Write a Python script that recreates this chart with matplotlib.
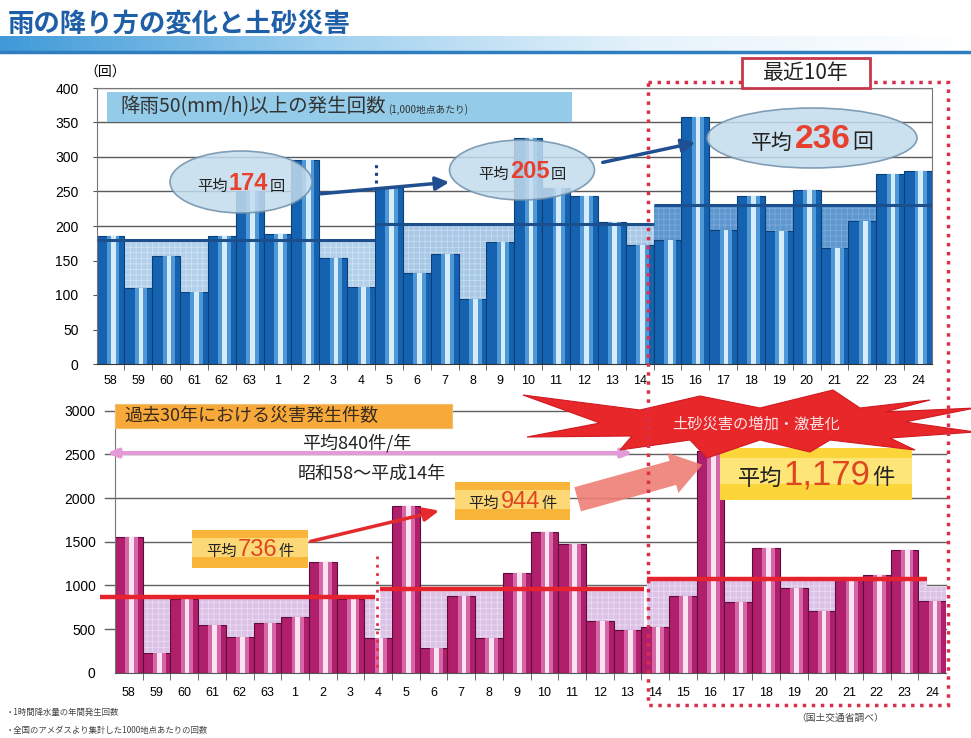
import matplotlib
matplotlib.use("Agg")
import matplotlib.pyplot as plt
import numpy as np
from matplotlib.transforms import Affine2D
from matplotlib.patches import Ellipse, Rectangle, Polygon, FancyArrowPatch
from matplotlib.offsetbox import TextArea, HPacker, AnnotationBbox
from matplotlib.colors import LinearSegmentedColormap

plt.rcParams['font.family'] = ['Noto Sans CJK JP', 'DejaVu Sans']
plt.rcParams['hatch.linewidth'] = 0.5

# ---------------- data ----------------
years = ['58', '59', '60', '61', '62', '63'] + [str(i) for i in range(1, 25)]

rain_counts = [186, 110, 156, 104, 186, 251, 189, 295, 154, 111,
               256, 132, 160, 94, 177, 328, 255, 243, 206, 173,
               180, 358, 194, 243, 193, 252, 168, 207, 276, 279]
rain_periods = [(0, 9), (10, 19), (20, 29)]
rain_avg_lines = [180, 203, 230]
rain_avg_labels = ['174', '205', '236']

disasters = [1557, 221, 840, 546, 412, 565, 641, 1263, 840, 393,
             1908, 286, 878, 401, 1145, 1615, 1473, 595, 489, 527,
             878, 2537, 813, 1424, 966, 706, 1061, 1118, 1405, 824]
dis_periods = [(-1.05, 8.9), (9.05, 18.6), (18.7, 28.8)]
dis_avg_lines = [870, 955, 1070]
dis_avg_labels = ['736', '944', '1,179']
overall_avg_level = 2515

W, H = 971, 738
fig = plt.figure(figsize=(W / 100, H / 100), dpi=100)
pix = Affine2D().scale(1 / W, -1 / H).translate(0, 1) + fig.transFigure

def ax_rect(x0, y0, x1, y1):
    return [x0 / W, 1 - y1 / H, (x1 - x0) / W, (y1 - y0) / H]

# ---------------- header band ----------------
band = fig.add_axes(ax_rect(0, 36, W, 51))
grad = np.linspace(0, 1, 256).reshape(1, -1)
band.imshow(grad, aspect='auto', cmap=LinearSegmentedColormap.from_list(
    'b', ['#3f9ad8', '#9fd0ef', '#e6f3fb', '#ffffff']), extent=[0, 1, 0, 1])
band.axis('off')
fig.add_artist(plt.Line2D([0, W], [52, 52], transform=pix, color='#2f7fc0', lw=2.5))
fig.text(8, 24, '雨の降り方の変化と土砂災害', transform=pix, fontsize=19, fontweight='bold',
         color='#1f5fa8', va='center', ha='left')

x = np.arange(len(years))

# ---------------- top chart ----------------
ax1 = fig.add_axes(ax_rect(96.5, 88, 932, 364))
ax1.set_xlim(-0.5, 29.5)
ax1.set_ylim(0, 400)
for gy in range(50, 401, 50):
    ax1.axhline(gy, color='#5a5a5a', lw=1.0, zorder=0.5)
fill_cols = ['#b3d0ea', '#a8c8e6', '#5e96cf']
hatch_cols = ['#d3e4f3', '#cadff1', '#7eaedc']
for (s, e), lv, fc, hc in zip(rain_periods, rain_avg_lines, fill_cols, hatch_cols):
    ax1.fill_between([s - 0.5, e + 0.5], 0, lv, facecolor=fc, edgecolor=hc,
                     hatch='+++', lw=0, zorder=1)
ax1.bar(x, rain_counts, width=1.0, color='#1462b0', edgecolor='#0c3f78', lw=0.8, zorder=2)
ax1.bar(x + 0.1, rain_counts, width=0.45, color='#4f98d8', lw=0, zorder=2.1)
ax1.bar(x + 0.1, rain_counts, width=0.17, color='#d6ecfb', lw=0, zorder=2.2)
for (s, e), lv in zip(rain_periods, rain_avg_lines):
    ax1.plot([s - 0.5, e + 0.5], [lv, lv], color='#1d4f8c', lw=2.2, zorder=3,
             solid_capstyle='butt')
ax1.plot([9.55, 9.55], [262, 292], color='#1d3f8c', lw=2.2, ls=(0, (1, 1.5)), zorder=3)
ax1.set_xticks(x)
ax1.set_xticklabels(years, fontsize=9, family=['Liberation Sans', 'DejaVu Sans'])
ax1.set_xticks(x[:-1] + 0.5, minor=True)
ax1.tick_params(axis='x', which='major', length=0, pad=8)
ax1.tick_params(axis='x', which='minor', length=4, color='#555')
ax1.set_yticks(range(0, 401, 50))
ax1.tick_params(axis='y', labelsize=10, length=3, pad=10, color='#555')
for lab in ax1.get_yticklabels():
    lab.set_family(['Liberation Sans', 'DejaVu Sans'])
for sp in ['left', 'top', 'right']:
    ax1.spines[sp].set_color('#777')
ax1.spines['bottom'].set_color('#333')
ax1.set_facecolor('white')

fig.text(105, 73, '（回）', transform=pix, fontsize=10, ha='center', va='center')

# title box of top chart
fig.add_artist(Rectangle((107, 92), 465, 30, transform=pix, facecolor='#93cbe8',
                         edgecolor='none', zorder=4))
tb = HPacker(children=[TextArea('降雨50(mm/h)以上の発生回数', textprops=dict(fontsize=14, color='#333')),
                       TextArea('(1,000地点あたり)', textprops=dict(fontsize=7, color='#333'))],
             align='baseline', pad=0, sep=2)
fig.add_artist(AnnotationBbox(tb, (120, 107), xycoords=pix, box_alignment=(0, 0.5),
                              frameon=False, zorder=5))

ell_specs = [(241, 182, 142, 62), (522, 170, 145, 60), (812, 138, 210, 60)]
ell_sizes = [(11, 17), (11, 17), (15, 24)]
for (cx, cy, ew, eh), lbl, (sm, bg) in zip(ell_specs, rain_avg_labels, ell_sizes):
    fig.add_artist(Ellipse((cx, cy), ew, eh, transform=pix, facecolor='#c4dced',
                           edgecolor='#6f8fab', lw=1.2, alpha=0.85, zorder=4))
    hp = HPacker(children=[TextArea('平均', textprops=dict(fontsize=sm, color='#222')),
                           TextArea(lbl, textprops=dict(fontsize=bg, color='#e8402e',
                                                        fontweight='bold',
                                                        family=['Liberation Sans', 'DejaVu Sans'])),
                           TextArea('回', textprops=dict(fontsize=sm, color='#222'))],
                 align='baseline', pad=0, sep=1)
    fig.add_artist(AnnotationBbox(hp, (cx, cy + 2), xycoords=pix, box_alignment=(0.5, 0.5),
                                  frameon=False, zorder=5))

for (x0, y0, x1, y1) in [(318, 194, 452, 182), (600, 163, 698, 142)]:
    fig.add_artist(FancyArrowPatch((x0, y0), (x1, y1), transform=pix,
                                   arrowstyle='-|>,head_length=8,head_width=4',
                                   color='#1f4f90', lw=2.5, zorder=5))

# ---------------- bottom chart ----------------
ax2 = fig.add_axes(ax_rect(115, 410.7, 946, 672.7))
ax2.set_xlim(-0.5, 29.5)
ax2.set_ylim(0, 3000)
for gy in range(500, 3001, 500):
    ax2.plot([-0.85, 29.5], [gy, gy], color='#606060', lw=1.0, zorder=0.5, clip_on=False)
for (s, e), lv in zip(dis_periods, dis_avg_lines):
    ax2.fill_between([max(s, -0.5), e], 0, lv, facecolor='#dcc2e6', edgecolor='#ecdff2',
                     hatch='+++', lw=0, zorder=1)
ax2.fill_between([28.8, 29.5], 0, 985, facecolor='#dcc2e6', edgecolor='#ecdff2',
                 hatch='+++', lw=0, zorder=1)
ax2.bar(x, disasters, width=1.0, color='#b01f6c', edgecolor='#5e0c38', lw=0.8, zorder=2)
ax2.bar(x + 0.1, disasters, width=0.45, color='#d766a6', lw=0, zorder=2.1)
ax2.bar(x + 0.1, disasters, width=0.17, color='#fbe4f1', lw=0, zorder=2.2)
for (s, e), lv in zip(dis_periods, dis_avg_lines):
    ax2.plot([s, e], [lv, lv], color='#e6222c', lw=3.2, zorder=3, clip_on=False,
             solid_capstyle='butt')
ax2.set_xticks(x)
ax2.set_xticklabels(years, fontsize=9, family=['Liberation Sans', 'DejaVu Sans'])
ax2.set_xticks(x[:-1] + 0.5, minor=True)
ax2.tick_params(axis='x', which='major', length=0, pad=10)
ax2.tick_params(axis='x', which='minor', length=5, color='#555')
ax2.set_yticks(range(0, 3001, 500))
ax2.tick_params(axis='y', labelsize=10, length=0, pad=14)
for lab in ax2.get_yticklabels():
    lab.set_family(['Liberation Sans', 'DejaVu Sans'])
for sp in ['top', 'right']:
    ax2.spines[sp].set_visible(False)
ax2.spines['left'].set_color('#777')
ax2.spines['bottom'].set_color('#555')

# overall average double arrow
ax2.annotate('', xy=(-0.9, overall_avg_level), xytext=(18.3, overall_avg_level),
             arrowprops=dict(arrowstyle='<|-|>,head_length=0.6,head_width=0.25',
                             color='#e39ad6', lw=3), annotation_clip=False, zorder=4)
fig.text(357, 443, '平均840件/年', transform=pix, fontsize=13, ha='center', va='center', color='#222')
fig.text(372, 474, '昭和58～平成14年', transform=pix, fontsize=13, ha='center', va='center', color='#222')

# orange title
fig.add_artist(Rectangle((115, 404), 337, 24, transform=pix, facecolor='#f7a93a',
                         edgecolor='#f0c070', lw=0.8, zorder=4))
fig.text(124, 416, '過去30年における災害発生件数', transform=pix, fontsize=13, ha='left',
         va='center', color='#3a2a20', zorder=5)

# avg boxes bottom
box_specs = [(192, 530, 116, 38, 11, 17, '#f8b53a'), (455, 482, 115, 38, 11, 17, '#f8b53a'),
             (720, 448, 192, 52, 16, 25, '#fbd53a')]
for (bx, by, bw, bh, sm, bg, fc), lbl in zip(box_specs, dis_avg_labels):
    fig.add_artist(Rectangle((bx, by), bw, bh, transform=pix, facecolor=fc,
                             edgecolor='none', zorder=6))
    fig.add_artist(Rectangle((bx, by + bh * 0.2), bw, bh * 0.5, transform=pix, facecolor='#fff1a0',
                             edgecolor='none', alpha=0.6, zorder=6))
    hp = HPacker(children=[TextArea('平均', textprops=dict(fontsize=sm, color='#222')),
                           TextArea(lbl, textprops=dict(fontsize=bg, color='#e0461e',
                                                        family=['Liberation Sans', 'DejaVu Sans'])),
                           TextArea('件', textprops=dict(fontsize=sm, color='#222'))],
                 align='baseline', pad=0, sep=1)
    fig.add_artist(AnnotationBbox(hp, (bx + bw / 2, by + bh / 2 + 1), xycoords=pix,
                                  box_alignment=(0.5, 0.5), frameon=False, zorder=7))

fig.add_artist(FancyArrowPatch((308, 542), (442, 510), transform=pix,
                               arrowstyle='-|>,head_length=9,head_width=4',
                               color='#e42a2c', lw=2.5, zorder=5))
fig.add_artist(FancyArrowPatch((575, 500), (705, 464), transform=pix,
                               arrowstyle='simple,head_length=22,head_width=30,tail_width=18',
                               color='#ee7e76', lw=0, alpha=0.9, zorder=5))

# starburst
star = [(523, 395), (640, 410), (700, 396), (760, 408), (833, 390), (860, 408), (930, 400),
        (885, 412), (975, 408), (905, 422), (975, 432), (890, 438), (915, 450), (830, 440),
        (810, 452), (760, 440), (707, 458), (690, 440), (620, 450), (632, 436), (527, 437),
        (600, 423)]
fig.add_artist(Polygon(star, closed=True, transform=pix, facecolor='#e8272b',
                       edgecolor='#d01a20', lw=0.8, zorder=6))
fig.text(756, 424, '土砂災害の増加・激甚化', transform=pix, fontsize=11, ha='center',
         va='center', color='#fbe3e3', zorder=7)

# dividers
fig.add_artist(plt.Line2D([377, 377], [556, 672], transform=pix, color='#e0304a', lw=2,
                          ls=(0, (1, 2)), zorder=5))
fig.add_artist(Rectangle((648, 82), 300, 623, transform=pix, facecolor='none',
                         edgecolor='#d8304c', lw=2.5, ls=(0, (1, 1.6)), zorder=8))
fig.add_artist(Rectangle((742, 58), 128, 30, transform=pix, facecolor='white',
                         edgecolor='#c8384c', lw=2, zorder=9))
fig.text(806, 73, '最近10年', transform=pix, fontsize=15, ha='center', va='center',
         color='#222', zorder=10)

# footnotes
fig.text(6, 712, '・1時間降水量の年間発生回数', transform=pix, fontsize=6, color='#444', va='center')
fig.text(6, 730, '・全国のアメダスより集計した1000地点あたりの回数', transform=pix, fontsize=6,
         color='#444', va='center')
fig.text(840, 718, '（国土交通省調べ）', transform=pix, fontsize=7, color='#444', ha='center', va='center')

fig.savefig('out.png', dpi=100)
